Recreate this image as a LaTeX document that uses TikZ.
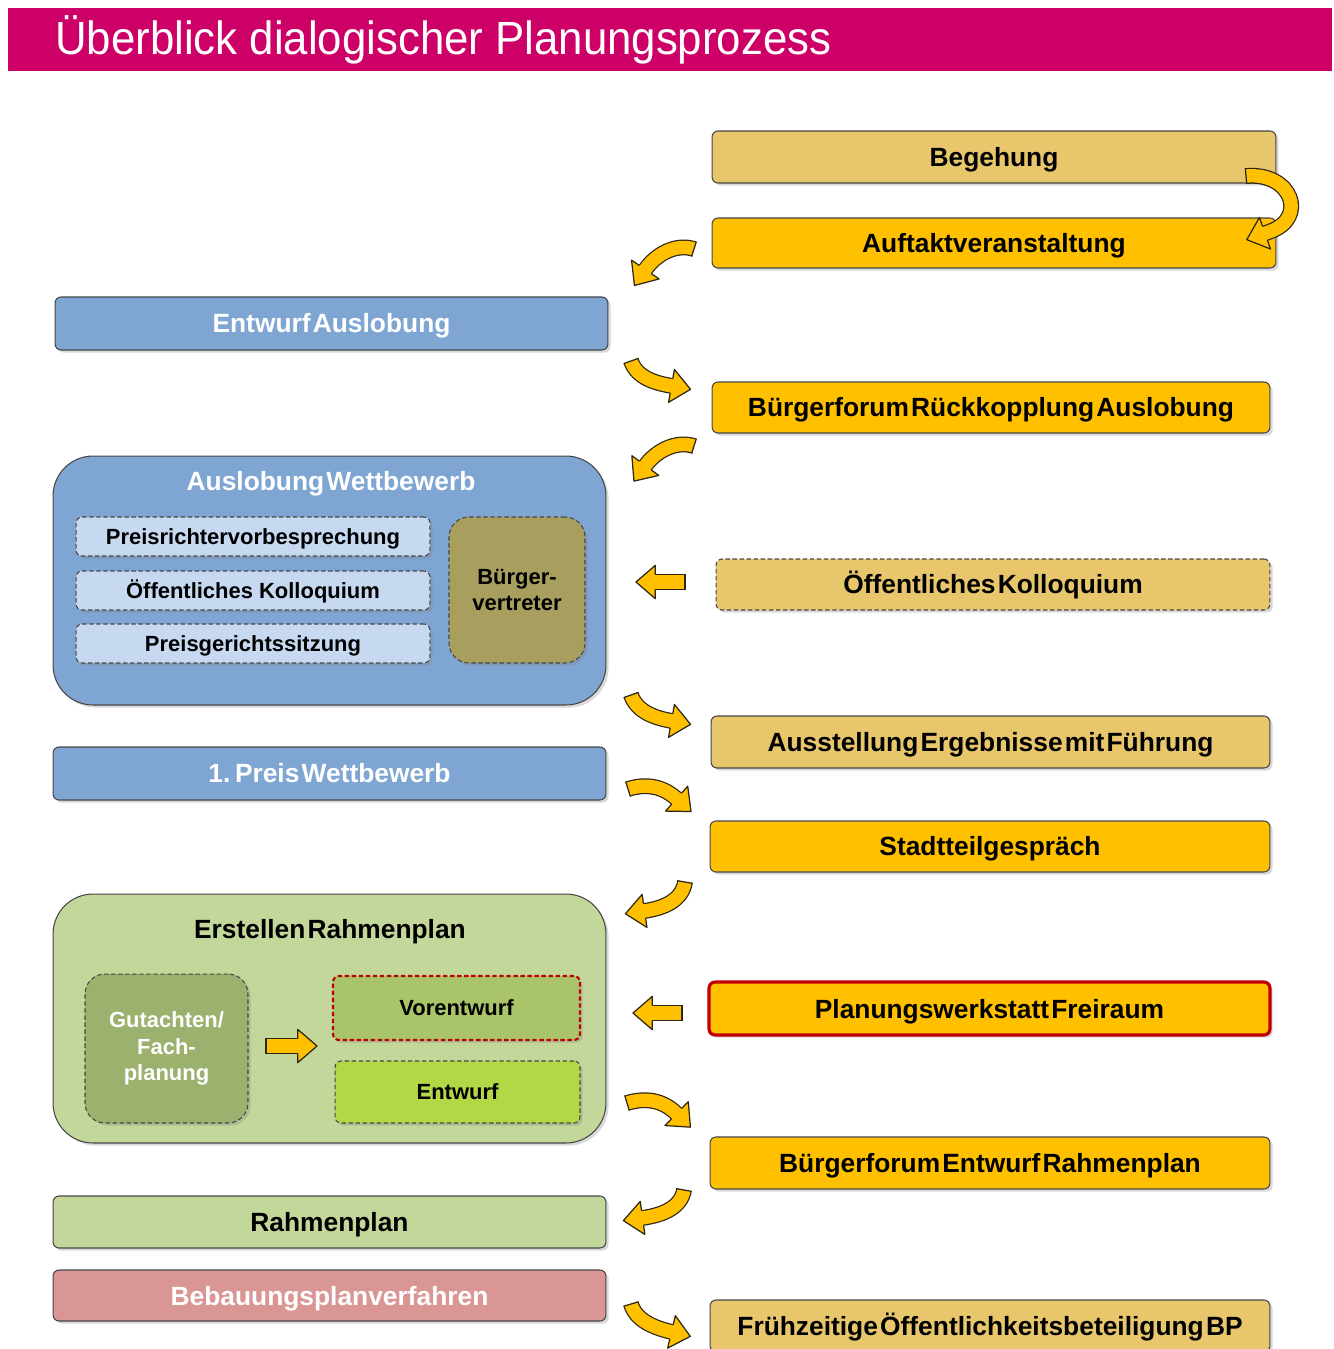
\documentclass[tikz,border=0pt]{standalone}
\usepackage{fontspec}
\setmainfont{Liberation Sans}
\newfontfamily\titlefont{Liberation Sans}[FakeStretch=0.94]
\newfontfamily\tightfont{Liberation Sans}[WordSpace=0.3]
\usepackage{xcolor}
\usepackage{tikz}
\usetikzlibrary{shadows,decorations.markings}
\definecolor{titlemagenta}{RGB}{204,0,102}
\definecolor{goldlight}{RGB}{232,198,107}
\definecolor{amber}{RGB}{255,192,0}
\definecolor{bluefill}{RGB}{127,166,211}
\definecolor{bluelight}{RGB}{198,217,241}
\definecolor{olivefill}{RGB}{168,158,94}
\definecolor{greenlight}{RGB}{196,215,155}
\definecolor{greendark}{RGB}{156,177,110}
\definecolor{greenmid}{RGB}{170,197,105}
\definecolor{limefill}{RGB}{178,216,70}
\definecolor{rosefill}{RGB}{217,150,148}
\definecolor{redline}{RGB}{192,0,0}
\definecolor{boxedge}{RGB}{70,70,70}
\definecolor{arrowedge}{RGB}{45,38,20}
\tikzset{
  dims/.style 2 args={minimum width=#1cm, minimum height=#2cm},
  base box/.style={
    rectangle, rounded corners=0.12cm, draw=boxedge, line width=0.6pt, inner sep=0pt,
    drop shadow={shadow xshift=1.5pt, shadow yshift=-1.5pt, opacity=0.3}
  },
  box/.style={
    base box, font=\tightfont\bfseries\fontsize{15}{18}\selectfont,
    text height=10.8pt, text depth=0pt
  },
  inner box/.style={
    base box, dash pattern=on 2.5pt off 1.5pt,
    font=\bfseries\fontsize{12.5}{15}\selectfont, text height=9pt, text depth=0pt
  },
  tall box/.style={
    base box, dash pattern=on 2.5pt off 1.5pt, rounded corners=0.4cm,
    font=\bfseries\fontsize{12.5}{15}\selectfont, align=center
  },
  group box/.style={base box, rounded corners=0.8cm},
  heading/.style={inner sep=0pt, font=\tightfont\bfseries\fontsize{15}{18}\selectfont},
  yshaft/.style={draw=arrowedge, line width=0.7pt, double=amber, double distance=7.6pt},
  yhead/.style={
    decorate, decoration={markings,
      mark=at position 0 with {\draw[arrowedge, line width=0.7pt] (0,-4.5pt) -- (0,4.5pt);},
      mark=at position 0.99 with {
        \fill[amber] (0,-9.5pt) -- (11pt,0) -- (0,9.5pt) -- cycle;
        \draw[arrowedge, line width=0.7pt, line join=round]
          (0,4.2pt) -- (0,9.5pt) -- (11pt,0) -- (0,-9.5pt) -- (0,-4.2pt);
      }
    }
  }
}
\newcommand{\bentarrow}[1]{\draw[yshaft] #1; \path[yhead] #1;}

\begin{document}
\begin{tikzpicture}[x=0.02cm, y=-0.02cm]
    \useasboundingbox (0,0) rectangle (1334,1349);

    % title bar
    \node (bar) [fill=titlemagenta, dims={26.48}{1.26}, inner sep=0pt] at (670,39.5) {};
    \node (title) [anchor=base west, inner sep=0pt, text=white,
        font=\titlefont\fontsize{26.5}{30}\selectfont] at (55,54) {Überblick dialogischer Planungsprozess};

    % right column: participation steps
    \node (beg) [box, fill=goldlight, dims={11.28}{1.04}] at (994,157)    {Begehung};
    \node (auf) [box, fill=amber,     dims={11.28}{1.00}] at (994,243)    {Auftaktveranstaltung};
    \node (bfa) [box, fill=amber,     dims={11.16}{1.02}] at (991,407.5)  {Bürgerforum Rückkopplung Auslobung};
    \node (okr) [box, fill=goldlight, dims={11.08}{1.02}, dash pattern=on 2.5pt off 1.5pt] at (993,584.5) {Öffentliches Kolloquium};
    \node (aus) [box, fill=goldlight, dims={11.18}{1.04}] at (990.5,742)  {Ausstellung Ergebnisse mit Führung};
    \node (stg) [box, fill=amber,     dims={11.20}{1.02}] at (990,846.5)  {Stadtteilgespräch};
    \node (pwf) [box, fill=amber,     dims={11.22}{1.06}, draw=redline, line width=1.8pt] at (989.5,1008.5) {Planungswerkstatt Freiraum};
    \node (bfe) [box, fill=amber,     dims={11.20}{1.04}] at (990,1163)   {Bürgerforum Entwurf Rahmenplan};
    \node (fob) [box, fill=goldlight, dims={11.20}{1.04}] at (990,1326)   {Frühzeitige Öffentlichkeitsbeteiligung BP};

    % left column: planning steps
    \node (ea) [box, fill=bluefill, text=white, dims={11.06}{1.06}] at (331.5,323.5) {Entwurf Auslobung};

    \node (aw) [group box, fill=bluefill, dims={11.06}{4.98}] at (329.5,580.5) {};
    \node (awt) [heading, text=white] at (331,484) {Auslobung Wettbewerb};
    \node (prv) [inner box, fill=bluelight, dims={7.08}{0.78}] at (253,536.5) {Preisrichtervorbesprechung};
    \node (ok)  [inner box, fill=bluelight, dims={7.08}{0.78}] at (253,590.5) {Öffentliches Kolloquium};
    \node (pgs) [inner box, fill=bluelight, dims={7.08}{0.78}] at (253,643.5) {Preisgerichtssitzung};
    \node (bv)  [tall box, fill=olivefill, dims={2.72}{2.92}] at (517,590) {Bürger-\\vertreter};

    \node (pw) [box, fill=bluefill, text=white, dims={11.06}{1.06}] at (329.5,773.5) {1. Preis Wettbewerb};

    \node (er) [group box, fill=greenlight, dims={11.06}{4.98}] at (329.5,1018.5) {};
    \node (ert) [heading] at (330,932) {Erstellen Rahmenplan};
    \node (gf)  [tall box, fill=greendark, text=white, dims={3.26}{2.98}] at (166.5,1048.5) {Gutachten/\\Fach-\\planung};
    \node (ve)  [inner box, fill=greenmid, draw=redline, line width=1.2pt, dims={4.94}{1.28}] at (456.5,1008) {Vorentwurf};
    \node (ent) [inner box, fill=limefill, dims={4.90}{1.24}] at (457.5,1092) {Entwurf};

    \node (rp)  [box, fill=greenlight, dims={11.06}{1.04}] at (329.5,1222) {Rahmenplan};
    \node (bpv) [box, fill=rosefill, text=white, dims={11.06}{1.02}] at (329.5,1295.5) {Bebauungsplanverfahren};

    % yellow block arrows
    \bentarrow{(1246,176) .. controls (1292,172) and (1308,218) .. (1270,231.5) -- (1264,233.6)}
    \bentarrow{(694,249) .. controls (675,243) and (655,255) .. (645,270)}
    \bentarrow{(631,361) .. controls (637,378) and (655,383) .. (672,386)}
    \bentarrow{(694,446) .. controls (675,440) and (655,452) .. (645,466)}
    \bentarrow{(685,582) -- (655,582)}
    \bentarrow{(631,695) .. controls (637,712) and (655,718) .. (672,721)}
    \bentarrow{(628,789) .. controls (650,782) and (666,789) .. (677,799)}
    \bentarrow{(685,882) .. controls (682,900) and (665,908) .. (644,911)}
    \bentarrow{(682,1013) -- (652,1013)}
    \bentarrow{(627,1103) .. controls (650,1096) and (666,1103) .. (677,1114)}
    \bentarrow{(684,1190) .. controls (681,1207) and (664,1215) .. (642,1218)}
    \bentarrow{(631,1304) .. controls (636,1321) and (655,1328) .. (672,1332)}
    \bentarrow{(266,1046) -- (298,1046)}
\end{tikzpicture}
\end{document}
